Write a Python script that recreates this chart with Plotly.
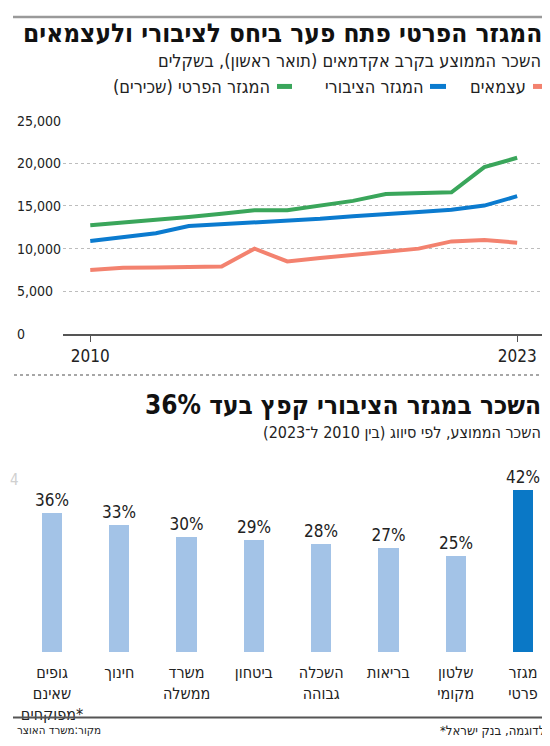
import plotly.graph_objects as go

# the page body adds an 8px margin, so the figure is 8px smaller and all
# positions below are given in page pixels and shifted by OFF
W, H = 550, 746
OFF = 8

# line chart data (average salary, NIS)
years = list(range(2010, 2024))
private_sector = [12750, 13050, 13300, 13700, 14100, 14500, 14500, 15050, 15600, 16400, 16500, 16600, 19550, 20650]
public_sector = [10900, 11400, 11800, 12650, 12850, 13150, 13250, 13500, 13800, 14000, 14300, 14550, 15050, 16150]
self_employed = [7500, 7750, 7800, 7800, 7900, 10000, 8500, 8900, 9300, 9700, 10000, 10850, 11000, 10700]
y_ticks = [0, 5000, 10000, 15000, 20000, 25000]
x_ticks = [2010, 2023]

# bar chart data (growth 2010-2023), listed right to left as read
sectors = ["מגזר<br>פרטי", "שלטון<br>מקומי", "בריאות", "השכלה<br>גבוהה", "ביטחון",
           "משרד<br>ממשלה", "חינוך", "גופים<br>שאינם<br>מפוקחים*"]
growth = [42, 25, 27, 28, 29, 30, 33, 36]

GREEN = "#3aa65b"
BLUE = "#0b7bcf"
SALMON = "#f3826f"
LIGHT_BAR = "#a3c3e7"
DARK_BAR = "#0a78c6"
TEXT = "#222222"
FONT = "DejaVu Sans Condensed, Liberation Sans, sans-serif"

FW, FH = W - OFF, H - OFF


def px_x(x):
    return (x - OFF) / FW


def px_y(y):
    return 1 - (y - OFF) / FH


fig = go.Figure()

fig.add_trace(go.Scatter(x=years, y=self_employed, mode="lines", name="עצמאים",
                         line=dict(color=SALMON, width=4)))
fig.add_trace(go.Scatter(x=years, y=public_sector, mode="lines", name="המגזר הציבורי",
                         line=dict(color=BLUE, width=4)))
fig.add_trace(go.Scatter(x=years, y=private_sector, mode="lines", name="המגזר הפרטי (שכירים)",
                         line=dict(color=GREEN, width=4)))

bar_colors = [DARK_BAR if i == 0 else LIGHT_BAR for i in range(len(sectors))]
fig.add_trace(go.Bar(x=sectors, y=growth, xaxis="x2", yaxis="y2",
                     marker=dict(color=bar_colors, line=dict(width=0)),
                     width=0.3, text=[f"{v}%" for v in growth],
                     textposition="outside", cliponaxis=False, constraintext="none",
                     textfont=dict(family=FONT, size=17, color=TEXT)))

# category axis: index 0 sits at x=523, index 7 at x=52 (page px)
step = (523 - 52) / 7
x2_left = 7 + (52 - OFF) / step
x2_right = -(W - 523) / step

fig.update_layout(
    width=FW, height=FH,
    margin=dict(l=0, r=0, t=0, b=0),
    paper_bgcolor="white", plot_bgcolor="white",
    showlegend=False,
    font=dict(family=FONT, color=TEXT),
    xaxis=dict(domain=[px_x(63), 1], range=[2009.17, 2024.0],
               tickvals=x_ticks, ticks="outside", ticklen=6, tickcolor="#555",
               showline=True, linecolor="#555", linewidth=1.5,
               showgrid=False, zeroline=False,
               tickfont=dict(size=17, color=TEXT)),
    yaxis=dict(domain=[px_y(333), px_y(115)], range=[0, 25000],
               anchor="free", position=px_x(13),
               tickvals=y_ticks, tickformat=",d",
               ticklabelposition="inside", ticklabeloverflow="allow",
               ticklabelstandoff=0,
               showline=False, zeroline=False,
               showgrid=True, gridcolor="#bdbdbd", griddash="dot", gridwidth=1,
               tickfont=dict(size=14, color=TEXT)),
    xaxis2=dict(domain=[0, 1], range=[x2_left, x2_right], anchor="y2",
                showline=False, showgrid=False, zeroline=False, ticks="",
                ticklabelstandoff=9,
                tickfont=dict(size=16, color=TEXT)),
    yaxis2=dict(domain=[px_y(658), px_y(477)], range=[0, 46], anchor="x2",
                visible=False),
    bargap=0,
)

annotations = [
    dict(text="<b>המגזר הפרטי פתח פער ביחס לציבורי ולעצמאים</b>", x=px_x(544), y=px_y(25),
         xanchor="right", yanchor="middle", font=dict(size=26, color="#111")),
    dict(text="השכר הממוצע בקרב אקדמאים (תואר ראשון), בשקלים", x=px_x(543), y=px_y(53),
         xanchor="right", yanchor="middle", font=dict(size=18)),
    dict(text="עצמאים", x=px_x(528), y=px_y(80), xanchor="right", yanchor="middle",
         font=dict(size=18)),
    dict(text="המגזר הציבורי", x=px_x(425), y=px_y(80), xanchor="right", yanchor="middle",
         font=dict(size=18)),
    dict(text="המגזר הפרטי (שכירים)", x=px_x(272), y=px_y(80), xanchor="right", yanchor="middle",
         font=dict(size=18)),
    dict(text="<b>השכר במגזר הציבורי קפץ בעד 36%</b>", x=px_x(543), y=px_y(406),
         xanchor="right", yanchor="middle", font=dict(size=26, color="#111")),
    dict(text="השכר הממוצע, לפי סיווג (בין 2010 ל־2023)\u200f", x=px_x(543), y=px_y(434),
         xanchor="right", yanchor="middle", font=dict(size=16)),
    dict(text="4", x=px_x(OFF), y=px_y(482), xanchor="left", yanchor="middle",
         font=dict(size=15, color="#d0d0d0")),
    dict(text="מקור:משרד האוצר", x=px_x(15), y=px_y(738), xanchor="left", yanchor="middle",
         font=dict(size=11.5)),
    dict(text="*לדוגמה, בנק ישראל", x=px_x(547), y=px_y(738), xanchor="right", yanchor="middle",
         font=dict(size=13)),
]
for a in annotations:
    a.update(xref="paper", yref="paper", showarrow=False)
fig.update_layout(annotations=annotations)

shapes = [
    dict(type="line", x0=px_x(13), x1=1, y0=px_y(OFF + 1), y1=px_y(OFF + 1),
         line=dict(color="#9a9a9a", width=2.5)),
    dict(type="line", x0=px_x(14), x1=1, y0=px_y(375), y1=px_y(375),
         line=dict(color="#8a8a8a", width=1.5, dash="dot")),
    dict(type="line", x0=px_x(13), x1=1, y0=px_y(725), y1=px_y(725),
         line=dict(color="#555", width=2)),
]
# legend swatches
for color, x0, x1 in [(SALMON, 533, 547), (BLUE, 430, 446), (GREEN, 277, 292)]:
    shapes.append(dict(type="line", x0=px_x(x0), x1=px_x(x1), y0=px_y(80), y1=px_y(80),
                       line=dict(color=color, width=5)))
for s in shapes:
    s.update(xref="paper", yref="paper")
fig.update_layout(shapes=shapes)

fig.write_html("out.html")
